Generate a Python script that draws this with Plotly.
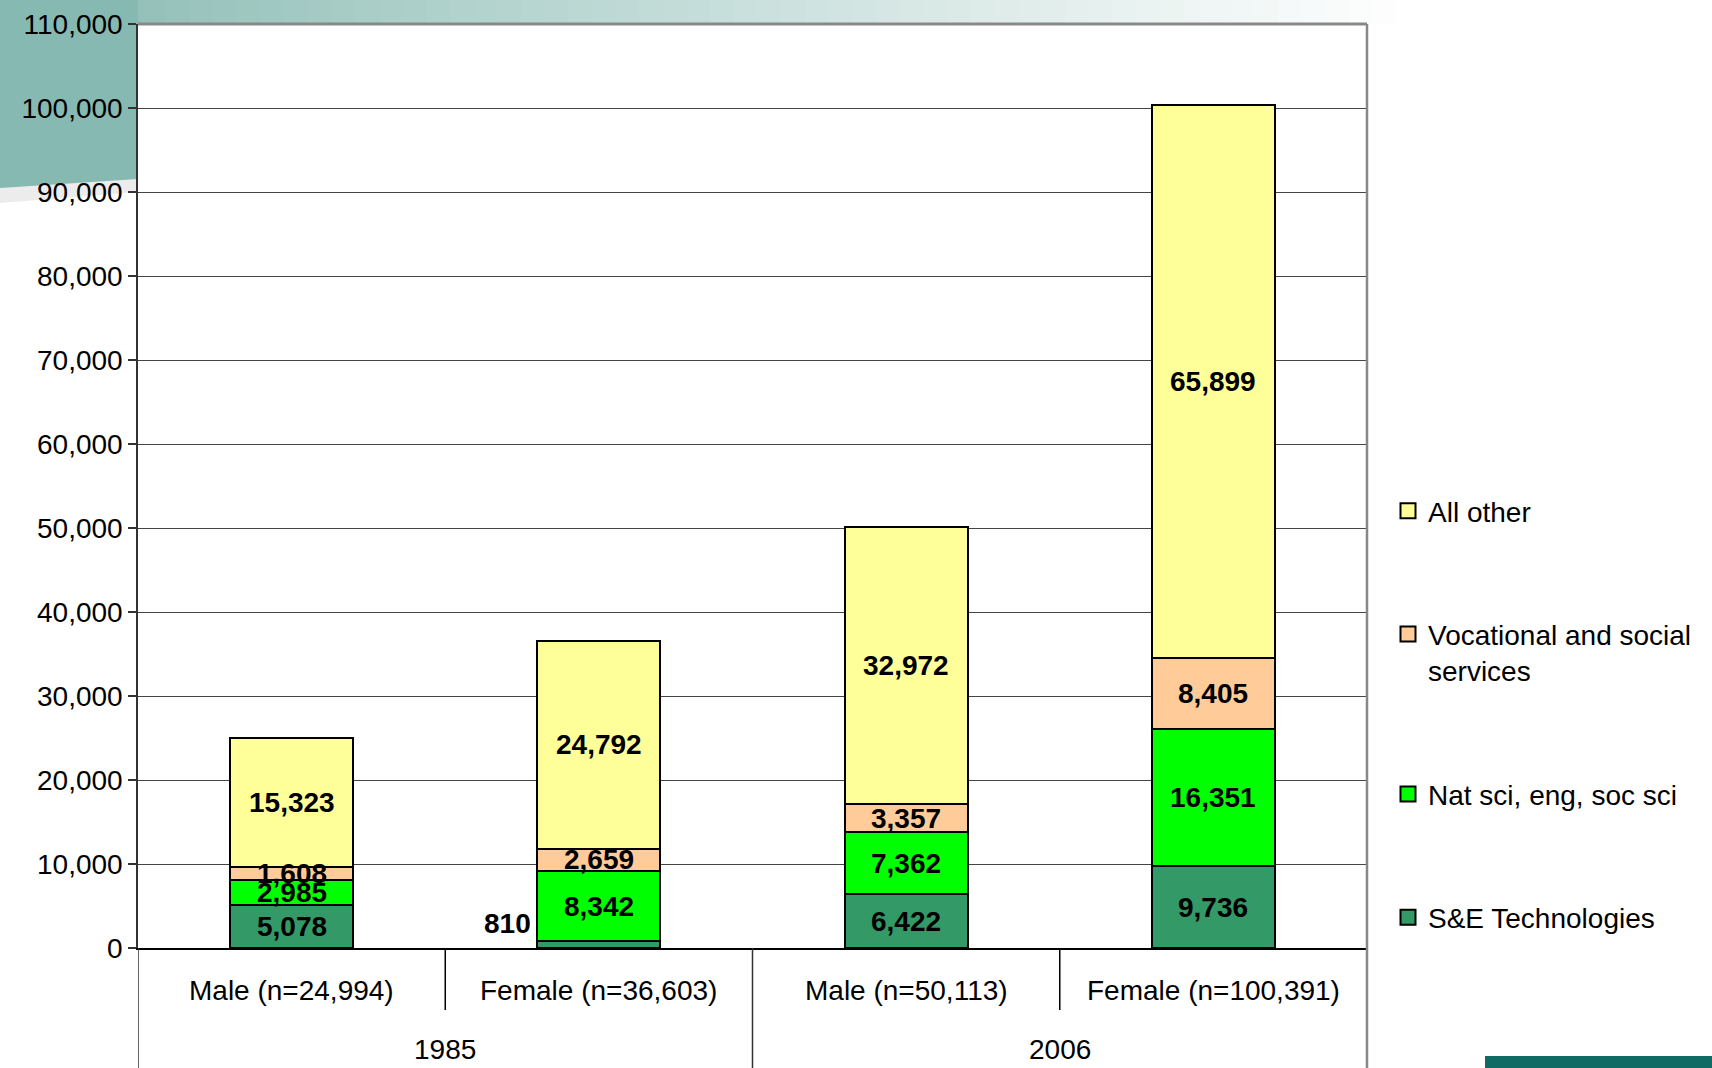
import plotly.graph_objects as go

# ---- data ----
years = ["1985", "1985", "2006", "2006"]
categories = ["Male (n=24,994)", "Female (n=36,603)", "Male (n=50,113)", "Female (n=100,391)"]
series_names = ["S&E Technologies", "Nat sci, eng, soc sci", "Vocational and social<br>services", "All other"]
se_tech = [5078, 810, 6422, 9736]
nat_sci = [2985, 8342, 7362, 16351]
vocational = [1608, 2659, 3357, 8405]
all_other = [15323, 24792, 32972, 65899]
y_ticks = list(range(0, 110001, 10000))

colors = ["#339966", "#00FF00", "#FFCC99", "#FFFF99"]
series_vals = [se_tech, nat_sci, vocational, all_other]

W, H = 1712, 1068
ML, MR, MT, MB = 138, 345, 24, 120
PW, PH = W - ML - MR, H - MT - MB
FONT = "Arial, Liberation Sans, sans-serif"
FS = 28


def px_x(px):
    return (px - ML) / PW


def px_y(py):
    return (H - MB - py) / PH


fig = go.Figure()
n_series = len(series_names)
for si, (name, vals, col) in enumerate(zip(series_names, series_vals, colors)):
    fig.add_trace(go.Bar(
        x=categories, y=vals, name=name, legendgroup=name, showlegend=False,
        marker=dict(color=col, line=dict(color="black", width=2)),
        width=0.4, hoverinfo="y+name",
    ))
# legend entries with larger square swatches
for si, (name, col) in enumerate(zip(series_names, colors)):
    fig.add_trace(go.Scatter(
        x=[None], y=[None], mode="markers", name=name, legendgroup=name,
        legendrank=n_series - si, hoverinfo="skip",
        marker=dict(symbol="square", size=15, color=col, line=dict(color="black", width=2)),
    ))

annotations = []
# bar value labels
for ci, cat in enumerate(categories):
    base = 0
    for si, vals in enumerate(series_vals):
        v = vals[ci]
        if si == 0 and v < 1500:
            annotations.append(dict(
                x=cat, y=v, xref="x", yref="y", text=f"<b>{v:,}</b>",
                showarrow=False, xanchor="right", yanchor="bottom",
                xshift=-66, yshift=0,
                font=dict(family=FONT, size=FS, color="black")))
        else:
            annotations.append(dict(
                x=cat, y=base + v / 2, xref="x", yref="y", text=f"<b>{v:,}</b>",
                showarrow=False, xanchor="center", yanchor="middle",
                font=dict(family=FONT, size=FS, color="black")))
        base += v

# category labels
for cat in categories:
    annotations.append(dict(
        x=cat, y=0, xref="x", yref="paper", text=cat, showarrow=False,
        yanchor="middle", yshift=-42, font=dict(family=FONT, size=FS, color="black")))
# year labels
uniq_years = []
for y in years:
    if y not in uniq_years:
        uniq_years.append(y)
for yr in uniq_years:
    idx = [i for i, y in enumerate(years) if y == yr]
    annotations.append(dict(
        x=(idx[0] + idx[-1]) / 2, y=0, xref="x", yref="paper", text=yr,
        showarrow=False, yanchor="middle", yshift=-101,
        font=dict(family=FONT, size=FS, color="black")))

shapes = []
# top gradient band and left decoration
teal = (0x86, 0xB9, 0xB1)
n_strips = 60
band_end = 1420
for k in range(n_strips):
    x0 = band_end * k / n_strips
    x1 = band_end * (k + 1) / n_strips + 1
    t = (k / (n_strips - 1)) ** 0.9
    c = tuple(int(teal[j] + (255 - teal[j]) * t) for j in range(3))
    shapes.append(dict(type="rect", xref="paper", yref="paper",
                       x0=px_x(x0), x1=px_x(x1), y0=px_y(MT), y1=px_y(0),
                       fillcolor="rgb(%d,%d,%d)" % c, line=dict(width=0), layer="below"))
# light gray sweep
shapes.append(dict(type="path", xref="paper", yref="paper", layer="below",
                   path=f"M {px_x(0)},{px_y(186)} L {px_x(ML)},{px_y(176)} L {px_x(ML)},{px_y(192)} "
                        f"L {px_x(0)},{px_y(203)} Z",
                   fillcolor="#ececec", line=dict(width=0)))
# teal block
shapes.append(dict(type="path", xref="paper", yref="paper", layer="below",
                   path=f"M {px_x(0)},{px_y(0)} L {px_x(ML)},{px_y(0)} L {px_x(ML)},{px_y(179)} "
                        f"L {px_x(0)},{px_y(188)} Z",
                   fillcolor="rgb(134,185,177)", line=dict(width=0)))
# logo box bottom right
shapes.append(dict(type="rect", xref="paper", yref="paper", layer="above",
                   x0=px_x(1485), x1=px_x(W), y0=px_y(H), y1=px_y(1056),
                   fillcolor="#0f6b63", line=dict(width=0)))

# plot area border (top, right) in gray
shapes.append(dict(type="line", xref="paper", yref="paper", x0=0, x1=1, y0=1, y1=1,
                   line=dict(color="#888888", width=3)))
shapes.append(dict(type="line", xref="paper", yref="paper", x0=1, x1=1, y0=px_y(H), y1=1,
                   line=dict(color="#888888", width=2.5)))
# category dividers
n = len(categories)
for b in range(n):
    xb = b - 0.5
    if b == 0 or years[b] != years[b - 1]:
        y_end = px_y(H)
        col = "#333333"
    else:
        y_end = px_y(1010)
        col = "black"
    shapes.append(dict(type="line", xref="x", yref="paper", x0=xb, x1=xb, y0=0, y1=y_end,
                       line=dict(color=col, width=1.5)))

fig.update_layout(
    width=W, height=H,
    margin=dict(l=ML, r=MR, t=MT, b=MB, autoexpand=False),
    barmode="stack",
    paper_bgcolor="white", plot_bgcolor="white",
    font=dict(family=FONT, size=FS, color="black"),
    showlegend=True,
    legend=dict(
        x=px_x(1388), xanchor="left", y=px_y(486), yanchor="top",
        traceorder="grouped", tracegroupgap=84, valign="top",
        itemsizing="trace",
        font=dict(family=FONT, size=FS, color="black"),
        bgcolor="rgba(0,0,0,0)",
    ),
    xaxis=dict(
        type="category", categoryorder="array", categoryarray=categories,
        range=[-0.5, n - 0.5], showticklabels=False, ticks="",
        showline=True, linecolor="black", linewidth=1.5, showgrid=False, zeroline=False,
    ),
    yaxis=dict(
        range=[0, 110000], tickvals=y_ticks, tickformat=",", ticks="outside",
        ticklen=8, tickcolor="#333333", tickwidth=1.5,
        showline=True, linecolor="#333333", linewidth=1.5,
        showgrid=True, gridcolor="#444444", gridwidth=1.2, zeroline=False,
        tickfont=dict(family=FONT, size=FS, color="black"),
    ),
    annotations=annotations,
    shapes=shapes,
    bargap=0.6,
)

fig.write_html("out.html", config={"displayModeBar": False},
               post_script="document.body.style.margin='0';document.body.style.overflow='hidden';")
